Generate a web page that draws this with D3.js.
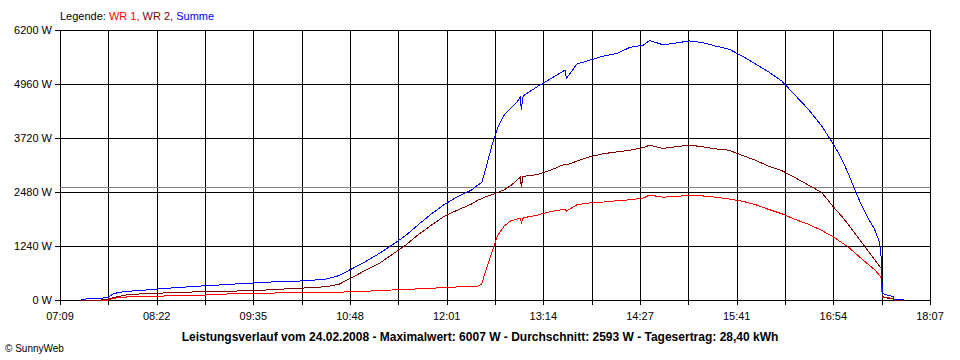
<!DOCTYPE html>
<html>
<head>
<meta charset="utf-8">
<script src="https://cdn.jsdelivr.net/npm/d3@7"></script>
<style>
  body { margin: 0; background: #fff; }
  svg text { font-family: "Liberation Sans", Arial, sans-serif; }
</style>
</head>
<body>
<svg id="chart" width="960" height="360"></svg>
<script>
// time of day for each reading
const times = ["07:25","07:30","07:40","07:45","07:50","07:55","08:00","08:10","08:20","08:30",
  "08:40","08:50","09:00","09:10","09:20","09:30","09:40","09:50","10:00","10:10",
  "10:20","10:30","10:40","10:50","11:00","11:10","11:20","11:30","11:40","11:50",
  "12:00","12:10","12:20","12:25","12:28","12:30","12:33","12:36","12:40","12:45",
  "12:50","12:55","12:57","12:58","12:59","13:00","13:10","13:20","13:30","13:31",
  "13:32","13:40","13:50","14:00","14:10","14:20","14:30","14:35","14:45","14:55",
  "15:05","15:15","15:25","15:35","15:45","15:55","16:05","16:15","16:25","16:35",
  "16:45","16:55","17:00","17:05","17:10","17:15","17:20","17:25","17:29","17:30",
  "17:31","17:35","17:39","17:40","17:42","17:45","17:47"];

const wr1 = [0,0,0,0,40,60,70,75,80,95,
  100,110,115,130,145,150,155,160,165,168,
  170,175,180,190,200,215,230,245,255,270,
  285,300,310,320,370,580,850,1130,1480,1700,
  1820,1860,1870,1780,1875,1890,1950,2030,2080,2090,
  2040,2190,2230,2250,2280,2300,2340,2410,2360,2380,
  2400,2390,2360,2320,2270,2190,2080,1980,1850,1740,
  1600,1430,1320,1220,1090,955,825,700,560,500,
  60,50,40,0,0,0,0];

const wr2 = [0,0,0,20,60,90,120,140,150,165,
  175,185,190,200,205,210,220,240,255,270,
  285,305,360,520,680,830,1040,1250,1500,1720,
  1930,2070,2200,2290,2330,2360,2390,2420,2470,2530,
  2630,2760,2820,2600,2830,2840,2880,2980,3110,3120,
  3100,3190,3290,3360,3400,3440,3500,3555,3480,3520,
  3555,3520,3470,3440,3320,3210,3070,2970,2810,2640,
  2470,2100,1930,1745,1540,1337,1135,933,770,735,
  80,40,30,0,0,0,0];

const summe = [0,30,40,60,150,180,200,220,245,270,
  290,310,330,345,365,380,400,415,425,435,
  455,480,560,720,880,1060,1260,1470,1730,1980,
  2200,2380,2520,2640,2700,2900,3250,3580,3950,4250,
  4400,4560,4650,4360,4660,4700,4900,5080,5260,5280,
  5090,5420,5510,5600,5660,5800,5850,5960,5860,5900,
  5950,5910,5830,5760,5600,5420,5237,5025,4700,4380,
  4000,3523,3250,2920,2540,2190,1885,1630,1310,1000,
  150,110,80,10,20,20,0];

const xTickLabels = ["07:09","08:22","09:35","10:48","12:01","13:14","14:27","15:41","16:54","18:07"];
const yTicks = [0, 1240, 2480, 3720, 4960, 6200];
const average = 2593;
const title = "Leistungsverlauf vom 24.02.2008 - Maximalwert: 6007 W - Durchschnitt: 2593 W - Tagesertrag: 28,40 kWh";

const toMin = s => { const [h, m] = s.split(":").map(Number); return h * 60 + m; };

const svg = d3.select("#chart");
const margin = { top: 30, right: 930, bottom: 300, left: 60 };

const tStart = toMin(xTickLabels[0]);
const tEnd = toMin(xTickLabels[xTickLabels.length - 1]);
const x = d3.scaleLinear().domain([tStart, tEnd]).range([margin.left, margin.right]);
const y = d3.scaleLinear().domain([0, 6200]).range([margin.bottom, margin.top]);

// 18 grid steps, label on every second one
const xGrid = d3.range(19).map(i => tStart + i * (tEnd - tStart) / 18);
const px = v => Math.round(v) + 0.5;

// legend
const leg = svg.append("text").attr("x", 60).attr("y", 20).attr("font-size", 11);
leg.append("tspan").attr("fill", "#000").text("Legende: ");
leg.append("tspan").attr("fill", "#ff0000").text("WR 1, ");
leg.append("tspan").attr("fill", "#800000").text("WR 2, ");
leg.append("tspan").attr("fill", "#0000ff").text("Summe");

// grid
const grid = svg.append("g").attr("shape-rendering", "crispEdges");
grid.selectAll(".vg").data(xGrid).join("line")
  .attr("x1", d => px(x(d))).attr("x2", d => px(x(d)))
  .attr("y1", margin.top).attr("y2", margin.bottom + 5)
  .attr("stroke", "#000");
grid.selectAll(".hg").data(yTicks).join("line")
  .attr("x1", margin.left - 5).attr("x2", margin.right)
  .attr("y1", d => px(y(d))).attr("y2", d => px(y(d)))
  .attr("stroke", "#000");

// average line
grid.append("line")
  .attr("x1", margin.left).attr("x2", margin.right)
  .attr("y1", px(y(average))).attr("y2", px(y(average)))
  .attr("stroke", "#808080");

// y labels
svg.append("g").selectAll("text").data(yTicks).join("text")
  .attr("x", margin.left - 8).attr("y", d => y(d) + 4)
  .attr("text-anchor", "end").attr("font-size", 11)
  .text(d => d + " W");

// x labels
svg.append("g").selectAll("text").data(xTickLabels).join("text")
  .attr("x", (d, i) => x(xGrid[i * 2])).attr("y", 320)
  .attr("text-anchor", "middle").attr("font-size", 11)
  .text(d => d);

// series
const series = [
  { values: wr1, color: "#ff0000" },
  { values: wr2, color: "#800000" },
  { values: summe, color: "#0000ff" }
];
const line = d3.line()
  .x(d => x(d.t))
  .y(d => y(d.v));
series.forEach(s => {
  const data = times.map((t, i) => ({ t: toMin(t), v: s.values[i] }));
  svg.append("path")
    .attr("d", line(data))
    .attr("fill", "none")
    .attr("stroke", s.color)
    .attr("stroke-width", 1)
    .attr("shape-rendering", "crispEdges");
});

// footer
svg.append("text").attr("x", 480).attr("y", 341)
  .attr("text-anchor", "middle").attr("font-size", 12).attr("font-weight", "bold")
  .text(title);
svg.append("text").attr("x", 5).attr("y", 352).attr("font-size", 10)
  .text("\u00a9 SunnyWeb");
</script>
</body>
</html>
